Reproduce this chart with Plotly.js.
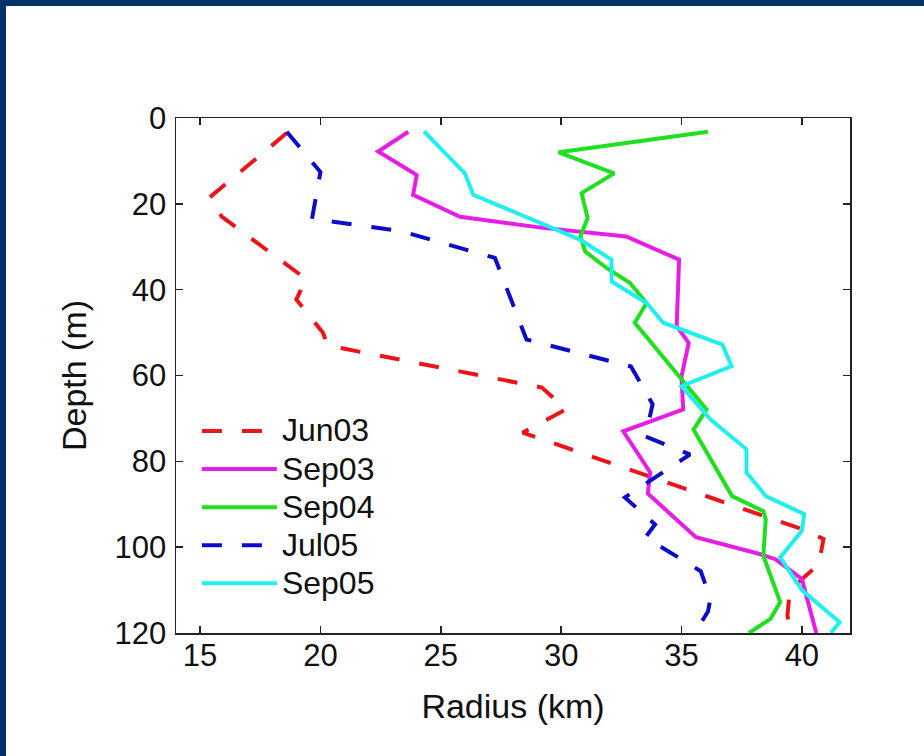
<!DOCTYPE html>
<html>
<head>
<meta charset="utf-8">
<script src="https://cdn.plot.ly/plotly-3.0.1.min.js"></script>
<style>
  html, body { margin: 0; padding: 0; background: #ffffff; }
  #wrap { position: relative; width: 924px; height: 756px; overflow: hidden; }
  #chart { position: absolute; left: 0; top: 0; width: 924px; height: 756px; }
  .bar { position: absolute; background: #003468; z-index: 5; }
</style>
</head>
<body>
<div id="wrap">
  <div id="chart"></div>
  <div class="bar" style="left:0;top:0;width:924px;height:6px;"></div>
  <div class="bar" style="left:0;top:0;width:6px;height:756px;"></div>
</div>
<script>
// ---- Data (radius in km, depth in m) ----
const seriesNames = ["Jun03", "Sep03", "Sep04", "Jul05", "Sep05"];

const jun03Radius = [18.6, 15.4, 15.9, 19.4, 19.0, 20.1, 20.3, 29.2, 30.2, 28.4, 40.0, 40.9, 40.7, 39.5, 39.4, 39.6];
const jun03Depth  = [3.5, 18.5, 23.0, 37.5, 42.3, 50.0, 53.0, 62.8, 67.9, 73.3, 95.8, 98.1, 104, 110, 116, 120];

const sep03Radius = [23.65, 22.4, 24.0, 23.85, 25.8, 29.25, 32.7, 34.9, 34.8, 35.3, 35.0, 35.07, 32.58, 33.7, 33.6, 35.6, 38.25, 38.9, 40.0, 40.6];
const sep03Depth  = [3.2, 7.8, 13.3, 17.9, 23.0, 25.6, 27.6, 33.0, 48.5, 52.4, 60.2, 67.9, 73.0, 82.6, 87.5, 97.7, 101.6, 102.8, 107.4, 120];

const sep04Radius = [36.1, 29.9, 32.2, 30.85, 31.1, 30.8, 31.0, 31.9, 32.85, 33.55, 33.06, 36.04, 35.5, 37.1, 38.4, 38.5, 38.4, 39.1, 38.7, 37.8];
const sep04Depth  = [3.2, 8.0, 12.9, 17.5, 23.3, 27.6, 31.1, 35.0, 38.4, 43.1, 47.7, 67.9, 72.6, 88.1, 91.6, 93.5, 102, 112.8, 116.7, 120];

const jul05Radius = [18.6, 20.0, 19.65, 23.3, 27.25, 28.56, 32.9, 33.8, 33.5, 35.35, 32.65, 33.9, 33.5, 35.8, 36.2, 36.1, 35.55];
const jul05Depth  = [3.2, 12.6, 23.5, 26.3, 32.6, 51.6, 57.9, 66.7, 74.2, 78.4, 88.4, 94.7, 97.7, 105.6, 112, 115, 120];

const sep05Radius = [24.3, 26.0, 26.35, 30.8, 32.09, 32.1, 33.55, 34.24, 36.7, 37.08, 35.0, 36.2, 37.7, 37.7, 38.5, 40.1, 40.0, 39.1, 40.0, 41.57, 41.2];
const sep05Depth  = [3.1, 12.9, 17.9, 28.4, 33.0, 38.1, 43.1, 47.7, 52.8, 57.8, 62.5, 70.2, 77.2, 82.6, 88.1, 92.3, 96.2, 102.4, 110, 117.5, 120];

const xTicks = [15, 20, 25, 30, 35, 40];
const yTicks = [0, 20, 40, 60, 80, 100, 120];

// ---- Styles ----
const colors = ["#eb1519", "#e51de5", "#1fe01f", "#0b0bcc", "#22eeee"];
const dashes = ["20px,20px", "solid", "solid", "20px,20px", "solid"];
const xs = [jun03Radius, sep03Radius, sep04Radius, jul05Radius, sep05Radius];
const ys = [jun03Depth, sep03Depth, sep04Depth, jul05Depth, sep05Depth];

const traces = seriesNames.map((n, i) => ({
  type: "scatter",
  mode: "lines",
  name: '<span style="font-size:32px">' + n + '</span>',
  x: xs[i],
  y: ys[i],
  line: { color: colors[i], width: 4, dash: dashes[i] },
  hoverinfo: "skip"
}));

const font = "Liberation Sans, Arial, Helvetica, sans-serif";

const axisCommon = {
  showgrid: false,
  zeroline: false,
  showline: true,
  linecolor: "#222222",
  linewidth: 1.5,
  mirror: "ticks",
  ticks: "inside",
  ticklen: 7,
  tickwidth: 1.5,
  tickcolor: "#222222",
  tickfont: { family: font, size: 31, color: "#111111" }
};

const layout = {
  width: 924,
  height: 756,
  paper_bgcolor: "#ffffff",
  plot_bgcolor: "#ffffff",
  margin: { l: 176, r: 74, t: 118, b: 123 },
  showlegend: true,
  xaxis: Object.assign({}, axisCommon, {
    range: [14, 42],
    tickvals: xTicks,
    ticktext: xTicks.map(String),
    ticklabelstandoff: -6,
    title: { text: "Radius (km)", font: { family: font, size: 34, color: "#111111" }, standoff: 22 }
  }),
  yaxis: Object.assign({}, axisCommon, {
    range: [120, 0],
    tickvals: yTicks,
    ticktext: yTicks.map(String),
    ticklabelstandoff: 2,
    title: { text: "Depth (m)", font: { family: font, size: 34, color: "#111111" }, standoff: 17 }
  }),
  legend: {
    x: 0.031,
    y: 0.439,
    xanchor: "left",
    yanchor: "top",
    bgcolor: "rgba(255,255,255,0)",
    borderwidth: 0,
    itemwidth: 75,
    font: { family: font, size: 27, color: "#111111" }
  }
};

Plotly.newPlot("chart", traces, layout, { staticPlot: true, displayModeBar: false });
</script>
</body>
</html>
